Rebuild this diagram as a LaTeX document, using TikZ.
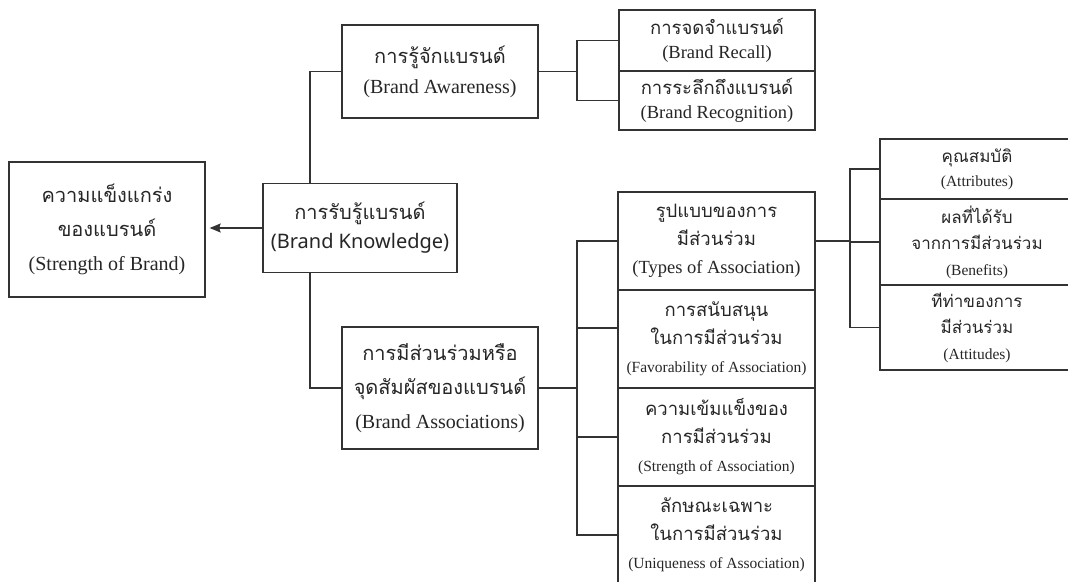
\documentclass[tikz,border=0pt]{standalone}
\usepackage{fontspec}
\setmainfont{Liberation Serif}
\newfontfamily\thaifont[Script=Thai]{Loma}
\newfontfamily\knowfont{Noto Sans}
\usepackage{tikz}
\usetikzlibrary{arrows.meta}
\newcommand{\thaitxt}[1]{{\thaifont #1}}
\newcommand{\smalleng}[1]{{\fontsize{15.5}{24}\selectfont #1}}
\tikzset{
  bigbox/.style={draw=black!80, line width=1.3pt, fill=white, text=black!85, inner sep=0pt, align=center, font=\fontsize{20}{34}\selectfont},
  midbox/.style={bigbox, font=\fontsize{18.5}{28}\selectfont},
  smallbox/.style={bigbox, font=\fontsize{17}{26}\selectfont},
  link/.style={draw=black!80, line width=1.3pt}
}

\begin{document}
\begin{tikzpicture}[x=1pt,y=-1pt]
\useasboundingbox (0,0) rectangle (1068,581);
  % left part
  \node[bigbox, minimum width=196pt, minimum height=135pt] (strength) at (107,229.5) {\thaitxt{ความแข็งแกร่ง}\\ \thaitxt{ของแบรนด์}\\ (Strength of Brand)};
  \node[bigbox, minimum width=194pt, minimum height=89pt, font=\fontsize{20}{29}\selectfont] (knowledge) at (360,228) {\thaitxt{การรับรู้แบรนด์}\\ {\knowfont\fontsize{20}{29}\selectfont (Brand Knowledge)}};
  \node[bigbox, minimum width=196pt, minimum height=93pt, font=\fontsize{20}{30}\selectfont] (awareness) at (440,71.5) {\thaitxt{การรู้จักแบรนด์}\\ (Brand Awareness)};
  \node[bigbox, minimum width=196pt, minimum height=122pt] (assoc) at (440,388) {\thaitxt{การมีส่วนร่วมหรือ}\\ \thaitxt{จุดสัมผัสของแบรนด์}\\ (Brand Associations)};
  % awareness branch
  \node[midbox, minimum width=196pt, minimum height=61pt] (recall) at (717,40.5) {\thaitxt{การจดจำแบรนด์}\\[-4pt] (Brand Recall)};
  \node[midbox, minimum width=196pt, minimum height=59pt] (recog) at (717,100.5) {\thaitxt{การระลึกถึงแบรนด์}\\[-4pt] (Brand Recognition)};
  % association branch
  \node[midbox, minimum width=197pt, minimum height=98pt] (types) at (716.5,241) {\thaitxt{รูปแบบของการ}\\ \thaitxt{มีส่วนร่วม}\\ (Types of Association)};
  \node[midbox, minimum width=197pt, minimum height=98pt] (favor) at (716.5,339) {\thaitxt{การสนับสนุน}\\ \thaitxt{ในการมีส่วนร่วม}\\ \smalleng{(Favorability of Association)}};
  \node[midbox, minimum width=197pt, minimum height=98pt] (strengthA) at (716.5,437) {\thaitxt{ความเข้มแข็งของ}\\ \thaitxt{การมีส่วนร่วม}\\ \smalleng{(Strength of Association)}};
  \node[midbox, minimum width=197pt, minimum height=98pt] (unique) at (716.5,535) {\thaitxt{ลักษณะเฉพาะ}\\ \thaitxt{ในการมีส่วนร่วม}\\ \smalleng{(Uniqueness of Association)}};
  % types branch
  \node[smallbox, minimum width=194pt, minimum height=60pt, font=\fontsize{17}{24}\selectfont] (attrib) at (977,169) {\thaitxt{คุณสมบัติ}\\ \smalleng{(Attributes)}};
  \node[smallbox, minimum width=194pt, minimum height=86pt] (benefit) at (977,242) {\thaitxt{ผลที่ได้รับ}\\ \thaitxt{จากการมีส่วนร่วม}\\ \smalleng{(Benefits)}};
  \node[smallbox, minimum width=194pt, minimum height=85pt] (attitude) at (977,327.5) {\thaitxt{ทีท่าของการ}\\ \thaitxt{มีส่วนร่วม}\\ \smalleng{(Attitudes)}};

  \coordinate (trunk) at (310,0);
  \coordinate (brL) at (577,0);
  \coordinate (brR) at (850,0);
  \coordinate (favin) at ([yshift=11pt]favor.west);
  \coordinate (tip) at ([xshift=4pt]strength.east |- knowledge.west);

  \draw[link,-{Stealth[length=11pt,width=9pt,inset=1.5pt]}] (knowledge.west) -- (tip);
  \draw[link] (awareness.west) -| (trunk |- knowledge.north);
  \draw[link] (trunk |- knowledge.south) |- (assoc.west);
  % brackets
  \draw[link] (awareness.east) -- (awareness.east -| brL);
  \draw[link] (recall.west) -| (brL |- recog.west) -- (recog.west);
  \draw[link] (assoc.east) -- (assoc.east -| brL);
  \draw[link] (types.west) -| (brL |- unique.west) -- (unique.west);
  \draw[link] (favin) -- (favin -| brL);
  \draw[link] (strengthA.west) -- (strengthA.west -| brL);
  \draw[link] (types.east) -- (types.east -| brR);
  \draw[link] (attrib.west) -| (brR |- attitude.west) -- (attitude.west);
  \draw[link] (benefit.west) -- (benefit.west -| brR);
\end{tikzpicture}
\end{document}
